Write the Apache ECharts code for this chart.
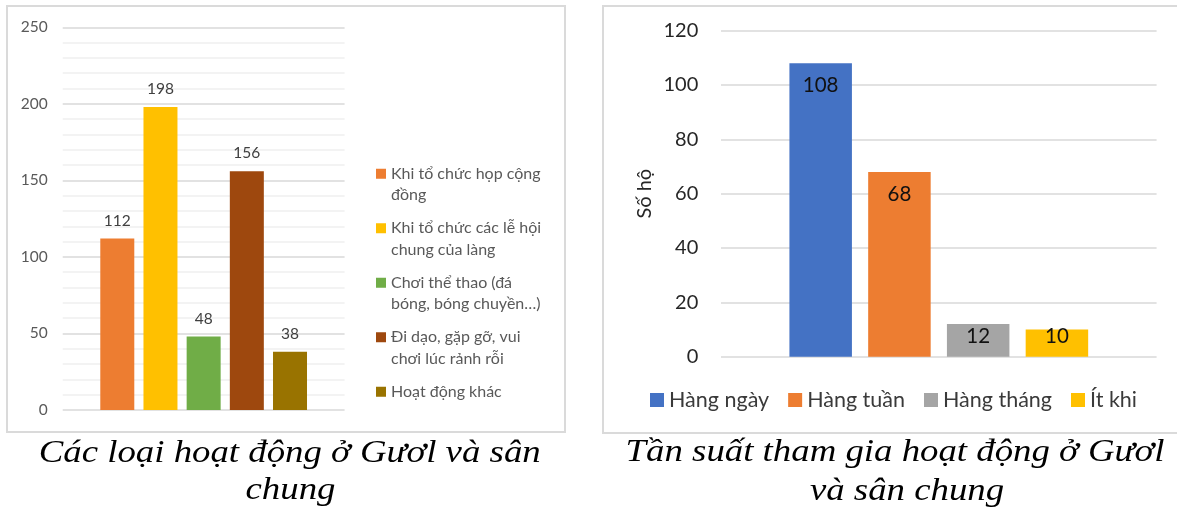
<!DOCTYPE html>
<html>
<head>
<meta charset="utf-8">
<script src="https://cdn.jsdelivr.net/npm/echarts@6/dist/echarts.min.js"></script>
<style>
  html, body { margin: 0; padding: 0; background: #fff; }
  #main { width: 1177px; height: 517px; }
</style>
</head>
<body>
<div id="main"></div>
<script>
// left chart: kinds of activities
var leftLegendLines = [
    'Khi tổ chức họp cộng\nđồng',
    'Khi tổ chức các lễ hội\nchung của làng',
    'Chơi thể thao (đá\nbóng, bóng chuyền…)',
    'Đi dạo, gặp gỡ, vui\nchơi lúc rảnh rỗi',
    'Hoạt động khác'
];
var leftValues = [112, 198, 48, 156, 38];
var leftAxisMax = 250;
var leftAxisStep = 50;

// right chart: frequency
var rightCategories = ['Hàng ngày', 'Hàng tuần', 'Hàng tháng', 'Ít khi'];
var rightValues = [108, 68, 12, 10];
var rightAxisMax = 120;
var rightAxisStep = 20;
var rightAxisName = 'Số hộ';

var leftCaption = ['Các loại hoạt động ở Gươl và sân', 'chung'];
var rightCaption = ['Tần suất tham gia hoạt động ở Gươl', 'và sân chung'];

var leftColors = ['#ED7D31', '#FFC000', '#70AD47', '#9E480E', '#997300'];
var rightColors = ['#4472C4', '#ED7D31', '#A5A5A5', '#FFC000'];

var FONT = 'Lato';
var leftNames = leftLegendLines.map(function (s) { return s.replace('\n', ' '); });

// legend icon: square sitting on the first text line (item box is 43 tall)
var iconFirstLine = 'path://M0,0h0.01v0.01h-0.01z M0,5.75h10v10h-10z M0,42.99h0.01v0.01h-0.01z';

var chart = echarts.init(document.getElementById('main'));

var series = [];
leftNames.forEach(function (n, i) {
    series.push({
        type: 'bar',
        name: n,
        xAxisIndex: 0,
        yAxisIndex: 0,
        data: [leftValues[i]],
        barWidth: 34,
        barGap: '27%',
        itemStyle: { color: leftColors[i] },
        label: {
            show: true,
            position: 'top',
            distance: 10,
            color: '#404040',
            fontFamily: FONT,
            fontSize: 15.5
        }
    });
});
rightCategories.forEach(function (n, i) {
    var v = rightValues[i];
    series.push({
        type: 'bar',
        name: n,
        xAxisIndex: 1,
        yAxisIndex: 1,
        data: [{
            value: v,
            label: v > 30 ? { position: 'insideTop', distance: 12 } : { position: 'insideBottom', distance: 10 }
        }],
        barWidth: 62.5,
        barGap: '26%',
        itemStyle: { color: rightColors[i] },
        label: {
            show: true,
            color: '#111',
            fontFamily: FONT,
            fontSize: 20.5
        }
    });
});

var captionFont = 'italic 32px "Liberation Serif"';

var option = {
    animation: false,
    backgroundColor: '#fff',
    grid: [
        { left: 62.7, top: 27.3, width: 281.9, height: 382.7 },
        { left: 721, top: 30.7, width: 435.6, height: 326 }
    ],
    xAxis: [
        { type: 'category', gridIndex: 0, data: [''], axisLine: { show: false }, axisTick: { show: false }, axisLabel: { show: false } },
        { type: 'category', gridIndex: 1, data: [''], axisLine: { show: false }, axisTick: { show: false }, axisLabel: { show: false } }
    ],
    yAxis: [
        {
            type: 'value', gridIndex: 0, min: 0, max: leftAxisMax, interval: leftAxisStep,
            axisLine: { show: false }, axisTick: { show: false },
            axisLabel: { color: '#595959', fontFamily: FONT, fontSize: 15.5, margin: 15 },
            splitLine: { lineStyle: { color: '#D9D9D9', width: 1.5 } },
            minorTick: { show: false, splitNumber: 5 },
            minorSplitLine: { show: true, lineStyle: { color: '#EFEFEF', width: 1.5 } }
        },
        {
            type: 'value', gridIndex: 1, min: 0, max: rightAxisMax, interval: rightAxisStep,
            name: rightAxisName, nameLocation: 'middle', nameGap: 66, nameRotate: 90,
            nameTextStyle: { color: '#262626', fontFamily: FONT, fontSize: 20 },
            axisLine: { show: false }, axisTick: { show: false },
            axisLabel: { color: '#262626', fontFamily: FONT, fontSize: 20, margin: 22.7 },
            splitLine: { lineStyle: { color: '#D9D9D9', width: 1.5 } }
        }
    ],
    legend: [
        {
            orient: 'vertical',
            left: 376,
            top: 163,
            padding: 0,
            itemGap: 11.5,
            itemWidth: 10,
            itemHeight: 43,
            data: leftNames.map(function (n) { return { name: n, icon: iconFirstLine }; }),
            formatter: function (name) {
                var s = leftLegendLines[leftNames.indexOf(name)];
                return s.indexOf('\n') >= 0 ? s : s + '\n ';
            },
            textStyle: { color: '#595959', fontFamily: FONT, fontSize: 16, lineHeight: 21.5 }
        },
        {
            orient: 'horizontal',
            left: 650,
            top: 389,
            padding: 0,
            itemGap: 19,
            itemWidth: 14,
            itemHeight: 14,
            icon: 'rect',
            data: rightCategories,
            textStyle: { color: '#3a3a3a', fontFamily: FONT, fontSize: 21.5 }
        }
    ],
    graphic: [
        { type: 'rect', shape: { x: 7, y: 6, width: 558, height: 426 }, style: { fill: 'none', stroke: '#DADADA', lineWidth: 2 }, silent: true },
        { type: 'rect', shape: { x: 603, y: 6, width: 600, height: 427 }, style: { fill: 'none', stroke: '#DADADA', lineWidth: 2 }, silent: true },
        { type: 'text', x: 289.7, y: 454, scaleX: 1.15, style: { text: leftCaption[0], font: captionFont, fill: '#000', align: 'center', verticalAlign: 'middle' } },
        { type: 'text', x: 290.5, y: 491, scaleX: 1.15, style: { text: leftCaption[1], font: captionFont, fill: '#000', align: 'center', verticalAlign: 'middle' } },
        { type: 'text', x: 895, y: 453, scaleX: 1.15, style: { text: rightCaption[0], font: captionFont, fill: '#000', align: 'center', verticalAlign: 'middle' } },
        { type: 'text', x: 907, y: 492, scaleX: 1.15, style: { text: rightCaption[1], font: captionFont, fill: '#000', align: 'center', verticalAlign: 'middle' } }
    ],
    series: series
};

chart.setOption(option);
</script>
</body>
</html>
